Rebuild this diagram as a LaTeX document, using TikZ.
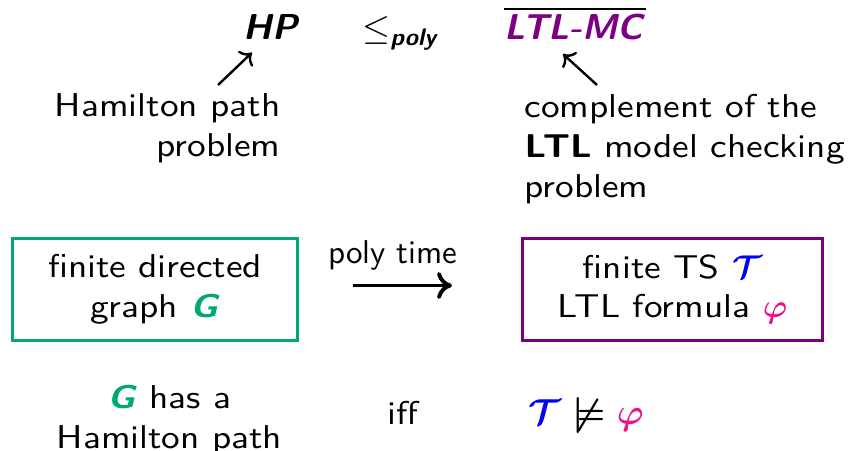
\documentclass[tikz,border=0pt]{standalone}
\usepackage{amsmath,amssymb}
\usepackage{fontspec}
\setsansfont{lmsans10}[Extension=.otf, UprightFont=*-regular,
  BoldFont=*-bold, ItalicFont=*-oblique, BoldItalicFont=*-boldoblique,
  FakeStretch=1.13]
\newfontfamily\hpfont{lmsans10}[Extension=.otf, UprightFont=*-regular,
  BoldFont=*-bold, ItalicFont=*-oblique, BoldItalicFont=*-boldoblique]
\usepackage{tikz}
\usetikzlibrary{calc,arrows,arrows.meta}

\definecolor{ggreen}{RGB}{0,170,110}
\definecolor{mcpurple}{RGB}{125,0,130}
\definecolor{tsblue}{RGB}{0,0,255}
\definecolor{phimag}{RGB}{235,20,140}

\newcommand{\bi}[1]{\textbf{\textit{#1}}}
% heavy bar over the problem name
\newcommand{\compl}[1]{\vbox{\hrule height .9pt\kern 1.4pt\hbox{#1}}}

\begin{document}
\begin{tikzpicture}[scale = 1/3,
    every node/.style={font=\sffamily\fontsize{11}{13.2}\selectfont},
    head/.style={font=\hpfont\fontsize{12}{14}\selectfont},
    box/.style={draw, line width=1pt, minimum height=34pt, align=center},
    ptr/.style={->, line width=.8pt}]

  \useasboundingbox (0pt,0pt) rectangle (849pt,451pt);

  % top line: HP <=poly complement of LTL-MC
  \node (HP) at (272pt,411pt) [head, anchor=base] {\bi{HP}};
  \node (LE) at (401pt,411pt) [head, anchor=base] {$\leq_{\text{\bi{poly}}}$};
  \node (MC) at (575pt,411pt) [head, anchor=base]
    {\compl{\color{mcpurple}\bi{LTL-MC}}};

  \node (HPD) at (281pt,358pt) [anchor=north east, align=right, inner sep=0pt]
    {Hamilton path\\problem};
  \node (MCD) at (524pt,357pt) [anchor=north west, align=left, inner sep=0pt]
    {complement of the\\\textbf{LTL} model checking\\problem};

  \draw[ptr] ($(HPD.north east)+(-63pt,8pt)$) -- ($(HP.south)+(-20pt,-2pt)$);
  \draw[ptr] ($(MCD.north west)+(73pt,9pt)$) -- ($(MC.south)+(-12pt,-3pt)$);

  % the reduction
  \node (GB) at (155pt,161.5pt) [box, draw=ggreen, minimum width=95.3pt]
    {finite directed\\graph \textcolor{ggreen}{\bi{G}}};
  \node (TB) at (672.5pt,161.5pt) [box, draw=mcpurple, minimum width=100pt]
    {finite TS $\color{tsblue}\boldsymbol{\mathcal{T}}$\\
     LTL formula $\color{phimag}\boldsymbol{\varphi}$};

  \draw[-{Computer Modern Rightarrow[length=5pt,width=9pt]}, line width=1.3pt]
    ($(GB.east)+(54pt,4pt)$) -- ($(TB.west)+(-69pt,4pt)$)
    node[pos=.4, above=1pt, font=\hpfont\fontsize{11}{13.2}\selectfont]
    {poly time};

  % bottom line
  \node (GH) at (169.5pt,66pt) [anchor=north, align=center, inner sep=0pt]
    {\textcolor{ggreen}{\bi{G}} has a\\Hamilton path};
  \node (IFF) at (403pt,26pt) [anchor=base] {iff};
  \node (NM) at (586pt,26pt) [anchor=base, font=\fontsize{12}{14}\selectfont\boldmath]
    {${\color{tsblue}\mathcal{T}} \not\models {\color{phimag}\varphi}$};

\end{tikzpicture}
\end{document}
